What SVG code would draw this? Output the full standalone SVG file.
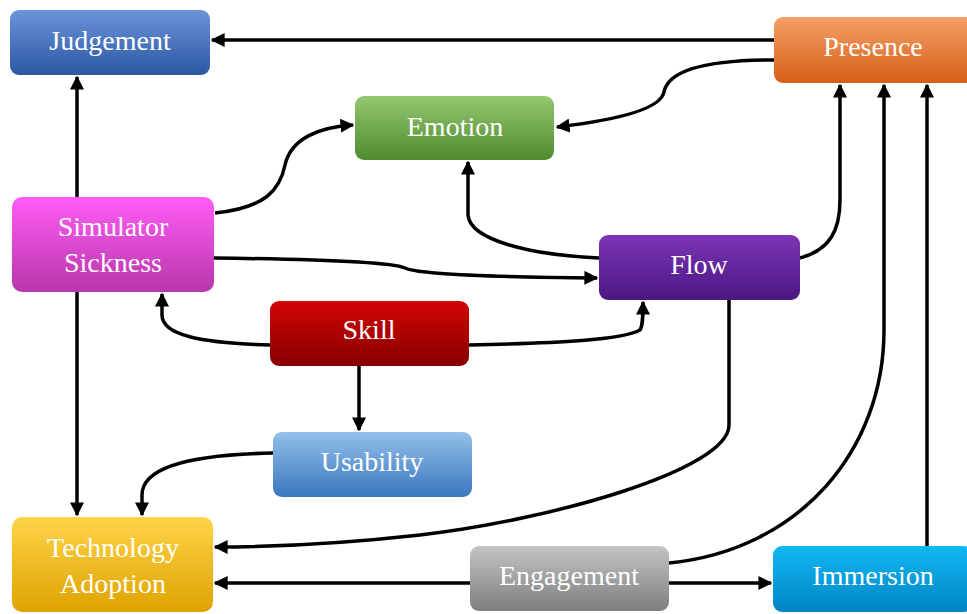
<svg xmlns="http://www.w3.org/2000/svg" width="967" height="614" viewBox="0 0 967 614">
<defs>
<linearGradient id="gJ" x1="0" y1="0" x2="0" y2="1"><stop offset="0" stop-color="#6b93da"/><stop offset="1" stop-color="#2c58a2"/></linearGradient>
<linearGradient id="gS" x1="0" y1="0" x2="0" y2="1"><stop offset="0" stop-color="#ff5cf6"/><stop offset="1" stop-color="#b836aa"/></linearGradient>
<linearGradient id="gE" x1="0" y1="0" x2="0" y2="1"><stop offset="0" stop-color="#94c871"/><stop offset="1" stop-color="#4e8a2e"/></linearGradient>
<linearGradient id="gP" x1="0" y1="0" x2="0" y2="1"><stop offset="0" stop-color="#f5a066"/><stop offset="1" stop-color="#d65e18"/></linearGradient>
<linearGradient id="gF" x1="0" y1="0" x2="0" y2="1"><stop offset="0" stop-color="#7b34b6"/><stop offset="1" stop-color="#4c1782"/></linearGradient>
<linearGradient id="gK" x1="0" y1="0" x2="0" y2="1"><stop offset="0" stop-color="#d40404"/><stop offset="1" stop-color="#860000"/></linearGradient>
<linearGradient id="gU" x1="0" y1="0" x2="0" y2="1"><stop offset="0" stop-color="#93c0ea"/><stop offset="1" stop-color="#3a77bf"/></linearGradient>
<linearGradient id="gT" x1="0" y1="0" x2="0" y2="1"><stop offset="0" stop-color="#ffd34a"/><stop offset="1" stop-color="#dea300"/></linearGradient>
<linearGradient id="gG" x1="0" y1="0" x2="0" y2="1"><stop offset="0" stop-color="#c4c4c4"/><stop offset="1" stop-color="#7e7e7e"/></linearGradient>
<linearGradient id="gI" x1="0" y1="0" x2="0" y2="1"><stop offset="0" stop-color="#12b9f2"/><stop offset="1" stop-color="#0083c4"/></linearGradient>
<marker id="ah" viewBox="0 0 10 10" refX="9" refY="5" markerWidth="4" markerHeight="4" orient="auto" markerUnits="strokeWidth">
<path d="M0,0 L10,5 L0,10 z" fill="#000"/>
</marker>
</defs>
<style>
.c{fill:none;stroke:#000;stroke-width:3.5;marker-end:url(#ah)}
.t{font-family:"Liberation Serif","Times New Roman",serif;font-size:28px;fill:#fff;text-anchor:middle}
</style>
<rect width="967" height="614" fill="#fff"/>
<g id="connectors">
<path class="c" d="M774,40 L212,40"/>
<path class="c" d="M77,197 L77,77"/>
<path class="c" d="M77,292 L77,515"/>
<path class="c" d="M215,213 C265,208 280,190 285,165 C291,138 320,127 353,125"/>
<path class="c" d="M774,60 C700,60 668,72 664,92 C660,112 600,122 557,127"/>
<path class="c" d="M599,258 C530,255 470,240 468,215 L468,162"/>
<path class="c" d="M213,258 C300,259 390,262 405,268 C420,275 500,277 597,278"/>
<path class="c" d="M800,258 C830,250 840,230 840,200 L840,85"/>
<path class="c" d="M669,563 C800,550 884,450 884,330 L884,85"/>
<path class="c" d="M927,546 L927,85"/>
<path class="c" d="M729,300 L729,425 C729,470 550,520 420,535 C330,545 260,547 215,547"/>
<path class="c" d="M470,583 L215,583"/>
<path class="c" d="M669,583 L771,583"/>
<path class="c" d="M270,345 C200,343 162,335 162,315 L162,294"/>
<path class="c" d="M469,345 C560,343 622,340 640,330 C643,325 643,315 643,302"/>
<path class="c" d="M359,366 L359,430"/>
<path class="c" d="M273,453 C180,455 142,470 142,495 L142,515"/>
</g>
<g id="judgement"><rect x="10" y="10" width="200" height="65" rx="9" fill="url(#gJ)"/><text class="t" x="110" y="50">Judgement</text></g>
<g id="simulator-sickness"><rect x="12" y="197" width="202" height="95" rx="10" fill="url(#gS)"/><text class="t" x="113" y="236">Simulator</text><text class="t" x="113" y="272">Sickness</text></g>
<g id="emotion"><rect x="355" y="96" width="199" height="64" rx="9" fill="url(#gE)"/><text class="t" x="455" y="136">Emotion</text></g>
<g id="presence"><rect x="774" y="17" width="200" height="66" rx="9" fill="url(#gP)"/><text class="t" x="873" y="56">Presence</text></g>
<g id="flow"><rect x="599" y="235" width="201" height="65" rx="9" fill="url(#gF)"/><text class="t" x="699" y="274">Flow</text></g>
<g id="skill"><rect x="270" y="301" width="199" height="65" rx="9" fill="url(#gK)"/><text class="t" x="369" y="339">Skill</text></g>
<g id="usability"><rect x="273" y="432" width="199" height="65" rx="9" fill="url(#gU)"/><text class="t" x="372" y="471">Usability</text></g>
<g id="technology-adoption"><rect x="12" y="517" width="201" height="95" rx="10" fill="url(#gT)"/><text class="t" x="113" y="557">Technology</text><text class="t" x="113" y="593">Adoption</text></g>
<g id="engagement"><rect x="470" y="546" width="199" height="65" rx="9" fill="url(#gG)"/><text class="t" x="569" y="585">Engagement</text></g>
<g id="immersion"><rect x="773" y="546" width="200" height="66" rx="9" fill="url(#gI)"/><text class="t" x="873" y="585">Immersion</text></g>
</svg>
